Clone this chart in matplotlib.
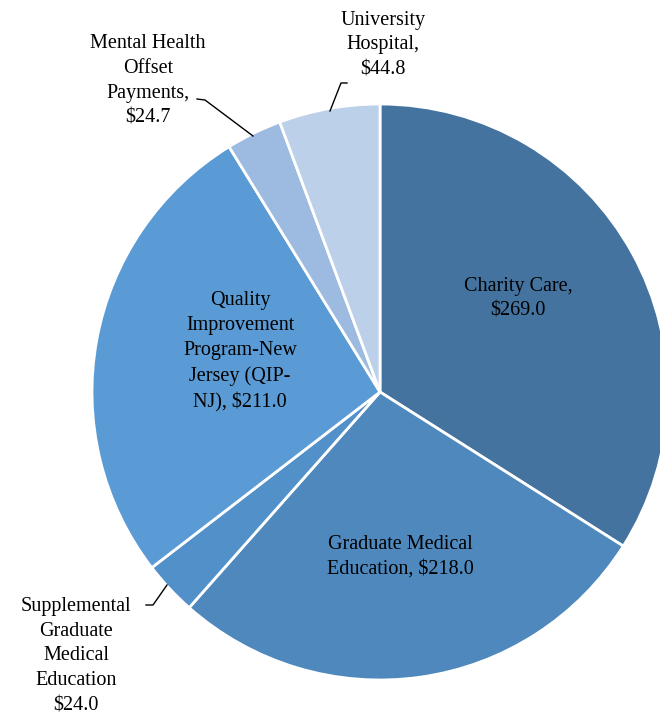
import matplotlib.pyplot as plt

# Funding amounts ($ millions), clockwise from the top
labels = ["Charity Care,\n$269.0",
          "Graduate Medical\nEducation, $218.0",
          "Supplemental\nGraduate\nMedical\nEducation\n$24.0",
          "Quality\nImprovement\nProgram-New\nJersey (QIP-\nNJ), $211.0",
          "Mental Health\nOffset\nPayments,\n$24.7",
          "University\nHospital,\n$44.8"]
values = [269.0, 218.0, 24.0, 211.0, 24.7, 44.8]
colors = ["#44739F", "#4E88BC", "#5290CA", "#5B9BD5", "#9DBAE0", "#BCD0EA"]

plt.rcParams['font.family'] = ['Liberation Serif', 'DejaVu Serif']

fig = plt.figure(figsize=(6.6, 7.19), dpi=100)
ax = fig.add_axes([0, 0, 1, 1])

cx, cy, r = 380, 392, 288
# y axis is inverted below, so counterclock=True draws clockwise on screen
ax.pie(values, colors=colors, startangle=-90, counterclock=True,
       center=(cx, cy), radius=r, frame=True,
       wedgeprops=dict(edgecolor='white', linewidth=2))
ax.set_xlim(0, 660)
ax.set_ylim(719, 0)
ax.set_aspect('equal')
ax.axis('off')

fs = 14.5
ls = 1.42
# inside labels
ax.text(518, 299, labels[0], ha='center', va='center', fontsize=fs, linespacing=ls)
ax.text(400, 557, labels[1], ha='center', va='center', fontsize=fs, linespacing=ls)
ax.text(240, 352, labels[3], ha='center', va='center', fontsize=fs, linespacing=ls)

# outside labels with leader lines
ax.text(148, 81, labels[4], ha='center', va='center', fontsize=fs, linespacing=ls)
ax.plot([197, 205, 253], [99, 100, 136], color='black', lw=1)
ax.text(383, 45, labels[5], ha='center', va='center', fontsize=fs, linespacing=ls)
ax.plot([347, 341, 330], [83, 83, 111], color='black', lw=1)
ax.text(76, 656, labels[2], ha='center', va='center', fontsize=fs, linespacing=ls)
ax.plot([146, 153, 167], [605, 605, 585], color='black', lw=1)

fig.savefig("out.png", dpi=100)
